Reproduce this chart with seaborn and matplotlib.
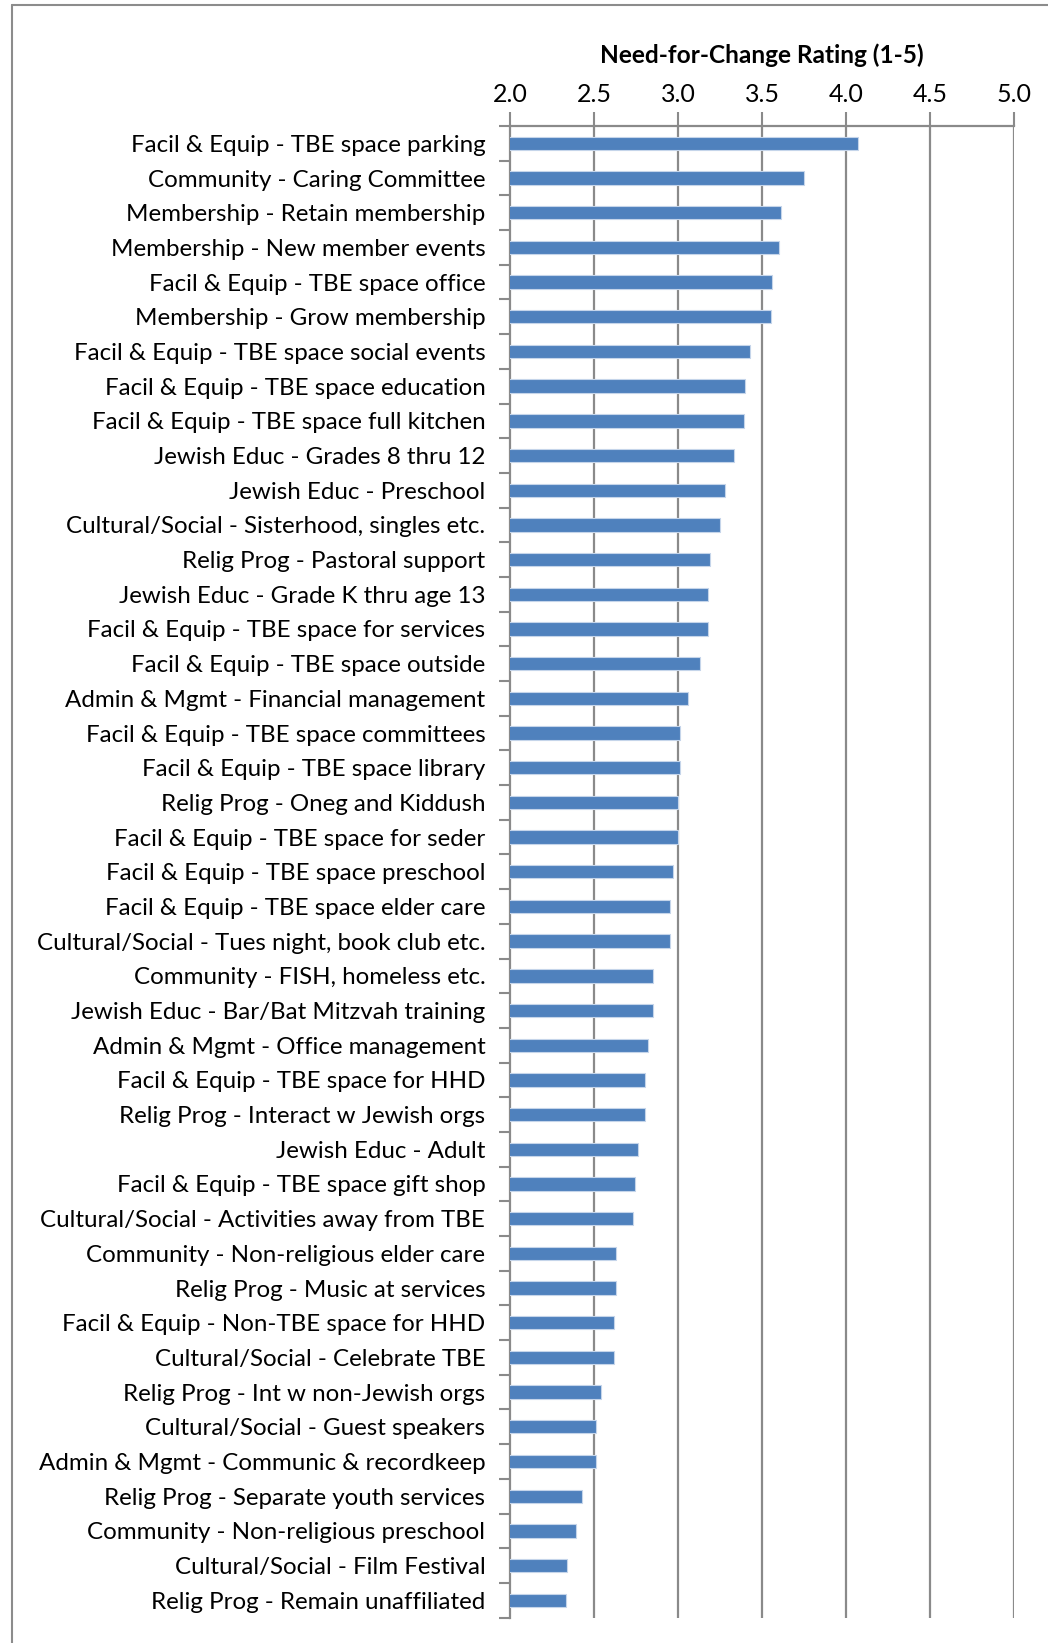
import matplotlib
matplotlib.use("Agg")
import matplotlib.pyplot as plt
from matplotlib.lines import Line2D
import seaborn as sns
import pandas as pd
import numpy as np

# Survey items and their mean need-for-change ratings (1-5 scale)
categories = [
    "Facil & Equip - TBE space parking",
    "Community - Caring Committee",
    "Membership - Retain membership",
    "Membership - New member events",
    "Facil & Equip - TBE space office",
    "Membership - Grow membership",
    "Facil & Equip - TBE space social events",
    "Facil & Equip - TBE space education",
    "Facil & Equip - TBE space full kitchen",
    "Jewish Educ - Grades 8 thru 12",
    "Jewish Educ - Preschool",
    "Cultural/Social - Sisterhood, singles etc.",
    "Relig Prog - Pastoral support",
    "Jewish Educ - Grade K thru age 13",
    "Facil & Equip - TBE space for services",
    "Facil & Equip - TBE space outside",
    "Admin & Mgmt - Financial management",
    "Facil & Equip - TBE space committees",
    "Facil & Equip - TBE space library",
    "Relig Prog - Oneg and Kiddush",
    "Facil & Equip - TBE space for seder",
    "Facil & Equip - TBE space preschool",
    "Facil & Equip - TBE space elder care",
    "Cultural/Social - Tues night, book club etc.",
    "Community - FISH, homeless etc.",
    "Jewish Educ - Bar/Bat Mitzvah training",
    "Admin & Mgmt - Office management",
    "Facil & Equip - TBE space for HHD",
    "Relig Prog - Interact w Jewish orgs",
    "Jewish Educ - Adult",
    "Facil & Equip - TBE space gift shop",
    "Cultural/Social - Activities away from TBE",
    "Community - Non-religious elder care",
    "Relig Prog - Music at services",
    "Facil & Equip - Non-TBE space for HHD",
    "Cultural/Social - Celebrate TBE",
    "Relig Prog - Int w non-Jewish orgs",
    "Cultural/Social - Guest speakers",
    "Admin & Mgmt - Communic & recordkeep",
    "Relig Prog - Separate youth services",
    "Community - Non-religious preschool",
    "Cultural/Social - Film Festival",
    "Relig Prog - Remain unaffiliated",
]

ratings = [
    4.07, 3.75, 3.61, 3.60, 3.56, 3.55, 3.43, 3.40, 3.39,
    3.33, 3.28, 3.25, 3.19, 3.18, 3.18, 3.13, 3.06,
    3.01, 3.01, 3.00, 3.00, 2.97, 2.95, 2.95, 2.85, 2.85,
    2.82, 2.80, 2.80, 2.76, 2.74, 2.73, 2.63, 2.63, 2.62,
    2.62, 2.54, 2.51, 2.51, 2.43, 2.39, 2.34, 2.33,
]

x_ticks = [2.0, 2.5, 3.0, 3.5, 4.0, 4.5, 5.0]
axis_title = "Need-for-Change Rating (1-5)"

df = pd.DataFrame({"item": categories, "rating": ratings})

sns.set_theme(style="white")
plt.rcParams["font.family"] = ["Lato", "DejaVu Sans"]

W, H = 1048, 1643
fig = plt.figure(figsize=(W / 100, H / 100), dpi=100)
fig.patch.set_facecolor("white")

left, right, top, bottom = 510.3, 1014.0, 126.0, 1617.6
ax = fig.add_axes([left / W, 1 - bottom / H, (right - left) / W, (bottom - top) / H])

grid_col = "#8a8a8a"
bar_col = "#4F81BD"

sns.barplot(data=df, x="rating", y="item", orient="h", color=bar_col,
            width=0.385, edgecolor="#c5d5ea", linewidth=0.8,
            saturation=1, ax=ax, zorder=3)

ax.set_xlim(2.0, 5.0)
ax.set_ylim(len(categories) - 0.5, -0.5)

# value axis on top
ax.xaxis.tick_top()
ax.set_xticks(x_ticks)
ax.set_xticklabels([f"{t:.1f}" for t in x_ticks])
ax.set_xlabel("")
ax.set_ylabel("")
ax.tick_params(axis="x", which="major", direction="out", length=10, width=1.5,
               color=grid_col, pad=4.5, labelsize=18, labelcolor="black",
               top=True, bottom=False)

# vertical gridlines
for t in x_ticks[1:]:
    ax.axvline(t, color=grid_col, lw=1.6, zorder=1)

# category separators as outward ticks on the left spine
ax.set_yticks(np.arange(len(categories)))
ax.set_yticks(np.arange(len(categories) + 1) - 0.5, minor=True)
ax.tick_params(axis="y", which="major", length=0, pad=18, labelsize=17.4,
               labelcolor="black")
ax.tick_params(axis="y", which="minor", length=8, width=1.5, color=grid_col,
               direction="out", left=True)

for side in ["right", "bottom"]:
    ax.spines[side].set_visible(False)
for side in ["left", "top"]:
    ax.spines[side].set_color(grid_col)
    ax.spines[side].set_linewidth(1.6)

fig.text(762 / W, 1 - 55.5 / H, axis_title, ha="center", va="center",
         fontsize=17.6, fontweight="bold", color="black")

# surrounding frame
fy = 1 - 4.5 / H
fx = 11.5 / W
fig.add_artist(Line2D([fx, fx], [0, fy], transform=fig.transFigure,
                      color="#8c8c8c", lw=1.5))
fig.add_artist(Line2D([fx, 1], [fy, fy], transform=fig.transFigure,
                      color="#8c8c8c", lw=1.5))

fig.savefig("out.png", dpi=100, facecolor="white")
